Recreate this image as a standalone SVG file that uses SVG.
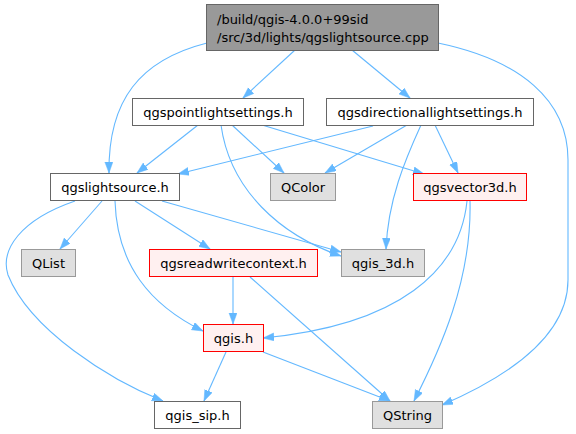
<svg xmlns="http://www.w3.org/2000/svg" width="576" height="434" viewBox="0 0 576 434">
<style>
.n rect{fill:#ffffff;stroke:#666666;stroke-width:1}
.g rect{fill:#e0e0e0;stroke:#999999;stroke-width:1}
.r rect{fill:#fff0f0;stroke:#ff0000;stroke-width:1}
.root rect{fill:#999999;stroke:#666666;stroke-width:1}
text{font-family:"DejaVu Sans","Liberation Sans",sans-serif;font-size:13px;fill:#000000}
.c{text-anchor:middle}
#edges path{fill:none;stroke:#63b8ff;stroke-width:1.1;marker-end:url(#ah)}
</style>
<defs>
<marker id="ah" markerUnits="userSpaceOnUse" markerWidth="12" markerHeight="9" refX="11" refY="4" orient="auto">
<path d="M0,0 L11,4 L0,8 z" fill="#63b8ff" stroke="#63b8ff" stroke-width="0.5"/>
</marker>
</defs>
<rect width="576" height="434" fill="#ffffff"/>
<g id="edges">
<path d="M295,50 L243,98"/>
<path d="M352,50 L410,98"/>
<path d="M207,43 C140,60 108,100 109,173"/>
<path d="M438,43 C520,60 568,100 568,160 L568,280 C568,340 500,380 442,405"/>
<path d="M198,125 L137,173"/>
<path d="M232,125 L284,173"/>
<path d="M262,125 L424,174"/>
<path d="M221,125 C230,190 280,235 341,256"/>
<path d="M373,126 L178,174"/>
<path d="M407,125 L325,173"/>
<path d="M435,125 L458,173"/>
<path d="M421,125 C405,160 388,200 386,249"/>
<path d="M102,201 L60,249"/>
<path d="M135,201 L210,249"/>
<path d="M162,201 L341,252"/>
<path d="M115,201 C117,265 150,305 203,331"/>
<path d="M75,201 C20,220 0,250 8,275 C30,330 110,380 163,401"/>
<path d="M233,277 L233,324"/>
<path d="M250,277 L390,401"/>
<path d="M467,201 C460,270 400,325 263,338"/>
<path d="M470,201 C472,280 440,350 414,401"/>
<path d="M226,352 L204,401"/>
<path d="M263,352 L390,401"/>
</g>
<g id="root" class="root"><rect x="206.5" y="4.5" width="232" height="46"/><text x="217" y="23.5">/build/qgis-4.0.0+99sid</text><text x="217" y="41.5">/src/3d/lights/qgslightsource.cpp</text></g>
<g id="qgspointlightsettings" class="n"><rect x="132.5" y="98.5" width="171" height="27"/><text class="c" x="218" y="116.5">qgspointlightsettings.h</text></g>
<g id="qgsdirectionallightsettings" class="n"><rect x="326.5" y="98.5" width="207" height="27"/><text class="c" x="430" y="116.5">qgsdirectionallightsettings.h</text></g>
<g id="qgslightsource" class="n"><rect x="50.5" y="173.5" width="129" height="27"/><text class="c" x="115" y="191.5">qgslightsource.h</text></g>
<g id="QColor" class="g"><rect x="270.5" y="173.5" width="65" height="27"/><text class="c" x="303" y="191.5">QColor</text></g>
<g id="qgsvector3d" class="r"><rect x="413.5" y="173.5" width="113" height="27"/><text class="c" x="470" y="191.5">qgsvector3d.h</text></g>
<g id="QList" class="g"><rect x="21.5" y="249.5" width="54" height="27"/><text class="c" x="48.5" y="267.5">QList</text></g>
<g id="qgsreadwritecontext" class="r"><rect x="149.5" y="249.5" width="168" height="27"/><text class="c" x="233.5" y="267.5">qgsreadwritecontext.h</text></g>
<g id="qgis_3d" class="g"><rect x="341.5" y="249.5" width="83" height="27"/><text class="c" x="383" y="267.5">qgis_3d.h</text></g>
<g id="qgis" class="r"><rect x="203.5" y="324.5" width="60" height="27"/><text class="c" x="233.5" y="342.5">qgis.h</text></g>
<g id="qgis_sip" class="n"><rect x="154.5" y="401.5" width="86" height="27"/><text class="c" x="197.5" y="419.5">qgis_sip.h</text></g>
<g id="QString" class="g"><rect x="372.5" y="401.5" width="70" height="27"/><text class="c" x="407.5" y="419.5">QString</text></g>
</svg>
